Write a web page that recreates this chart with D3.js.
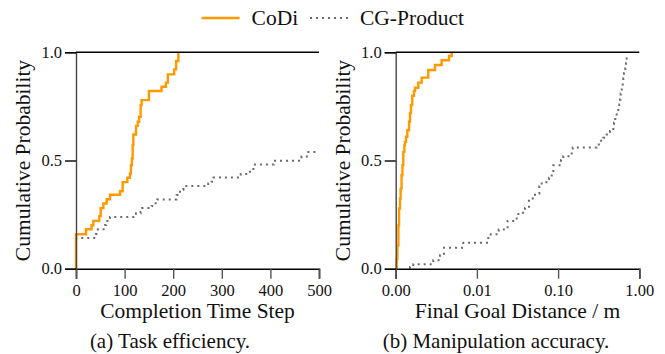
<!DOCTYPE html>
<html>
<head>
<meta charset="utf-8">
<script src="https://d3js.org/d3.v7.min.js"></script>
<style>
  body { margin: 0; background: #fff; }
  text { font-family: "Liberation Serif", "Times New Roman", serif; fill: #111; }
</style>
</head>
<body>
<svg id="chart" width="665" height="354"></svg>
<script>
// ---- data read off the reference (step-wise empirical CDFs) ----
// (a) completion time step
const codiTime     = [0, 20.6, 32, 35.7, 48, 50.8, 56.3, 63, 70, 90.6, 96, 105.6, 111, 113, 115, 116.6, 118, 123.5, 127, 130, 133, 135, 150, 176, 185, 189, 202, 206, 210.6];
const codiTimeCdf  = [0.159, 0.182, 0.201, 0.221, 0.243, 0.280, 0.301, 0.321, 0.342, 0.358, 0.400, 0.420, 0.440, 0.478, 0.509, 0.571, 0.620, 0.660, 0.679, 0.702, 0.756, 0.779, 0.821, 0.841, 0.860, 0.898, 0.921, 0.960, 1.0];
const cgTime       = [0, 41, 45, 60, 62, 70, 123.5, 133, 136, 155.7, 159, 167, 207, 214, 221, 272, 279, 283, 339, 358, 365, 407, 464, 475, 500];
const cgTimeCdf    = [0.142, 0.160, 0.182, 0.202, 0.220, 0.239, 0.256, 0.262, 0.280, 0.290, 0.302, 0.320, 0.340, 0.364, 0.382, 0.394, 0.402, 0.421, 0.438, 0.453, 0.481, 0.499, 0.518, 0.539, 0.539];

// (b) final goal distance in m
const codiDist     = [0.001, 0.00103, 0.00105, 0.00108, 0.0011, 0.00113, 0.00115, 0.00118, 0.00121, 0.00124, 0.00128, 0.0013, 0.00134, 0.00139, 0.00146, 0.0015, 0.00154, 0.0016, 0.00168, 0.00173, 0.0019, 0.00209, 0.00252, 0.00305, 0.00368, 0.00453, 0.00489];
const codiDistCdf  = [0.0, 0.046, 0.108, 0.201, 0.278, 0.324, 0.370, 0.432, 0.478, 0.540, 0.571, 0.586, 0.610, 0.640, 0.679, 0.718, 0.756, 0.799, 0.821, 0.836, 0.860, 0.883, 0.918, 0.941, 0.963, 0.983, 1.0];
const cgDist       = [0.0015, 0.0015, 0.00165, 0.0029, 0.00351, 0.00393, 0.0068, 0.0138, 0.0148, 0.01856, 0.0239, 0.0309, 0.0324, 0.0391, 0.0438, 0.0487, 0.0519, 0.0587, 0.0628, 0.0772, 0.0834, 0.0873, 0.1086, 0.1159, 0.1471, 0.1513, 0.2988, 0.328, 0.360, 0.397, 0.436, 0.479, 0.488, 0.506, 0.527, 0.551, 0.567, 0.578, 0.590, 0.607, 0.625, 0.635, 0.648, 0.673, 0.686, 0.700];
const cgDistCdf    = [0.0, 0.008, 0.020, 0.039, 0.062, 0.097, 0.120, 0.142, 0.159, 0.181, 0.221, 0.239, 0.259, 0.281, 0.319, 0.330, 0.347, 0.381, 0.400, 0.420, 0.440, 0.478, 0.502, 0.520, 0.540, 0.560, 0.574, 0.591, 0.605, 0.620, 0.636, 0.651, 0.674, 0.698, 0.721, 0.741, 0.759, 0.782, 0.810, 0.836, 0.860, 0.880, 0.903, 0.926, 0.949, 0.980];

const timeTicks = [0, 100, 200, 300, 400, 500];
const distTicks = [0.001, 0.01, 0.1, 1];
const probTicks = [0, 0.5, 1];

const seriesNames = ["CoDi", "CG-Product"];
const orange = "#ff9900";
const grey = "#6a6a6a";

const svg = d3.select("#chart");
const plotTop = 52.3, plotBottom = 268.7;

const y = d3.scaleLinear().domain([0, 1]).range([plotBottom, plotTop]);

function panel(xScale, xTicks, xFormat, xLabel, caption, captionX, series) {
  const [x0, x1] = xScale.range();
  const g = svg.append("g");

  // series
  const line = d3.line()
      .x(d => xScale(d[0]))
      .y(d => y(d[1]))
      .curve(d3.curveStepAfter);

  series.forEach(s => {
    let pts = s.xs.map((v, i) => [v, s.ps[i]]);
    if (s.ps[0] > 0) pts.unshift([s.xs[0], 0]);
    g.append("path")
      .attr("d", line(pts))
      .attr("fill", "none")
      .attr("stroke", s.color)
      .attr("stroke-width", s.dotted ? 2 : 2.4)
      .attr("stroke-dasharray", s.dotted ? "2 4" : null)
      .attr("stroke-linejoin", "miter");
  });

  // x axis
  const xa = g.append("g")
      .attr("transform", "translate(0," + plotBottom + ")")
      .call(d3.axisBottom(xScale).tickValues(xTicks).tickFormat(xFormat).tickSize(10).tickPadding(6));
  xa.select(".domain").attr("stroke", "#000").attr("stroke-width", 1.6);
  xa.selectAll(".tick line").attr("stroke", "#555").attr("stroke-width", 1.4);
  xa.selectAll(".tick text").attr("font-size", 16.5).attr("font-family", "Liberation Serif").attr("fill", "#111");

  // y axis
  const ya = g.append("g")
      .attr("transform", "translate(" + x0 + ",0)")
      .call(d3.axisLeft(y).tickValues(probTicks).tickFormat(d3.format(".1f")).tickSize(11).tickPadding(3));
  ya.select(".domain").attr("stroke", "#444").attr("stroke-width", 1.4);
  ya.selectAll(".tick line").attr("stroke", "#000").attr("stroke-width", 1.4);
  ya.selectAll(".tick text").attr("font-size", 16.5).attr("font-family", "Liberation Serif").attr("fill", "#111");

  // top border
  g.append("line")
    .attr("x1", x0).attr("x2", x1)
    .attr("y1", plotTop).attr("y2", plotTop)
    .attr("stroke", "#000").attr("stroke-width", 1.6);

  g.append("text")
    .attr("transform", "translate(" + (x0 - 53) + "," + ((plotTop + plotBottom) / 2) + ") rotate(-90)")
    .attr("text-anchor", "middle")
    .attr("dominant-baseline", "central")
    .attr("font-size", 21.5)
    .text("Cumulative Probability");

  g.append("text")
    .attr("x", (x0 + x1) / 2).attr("y", 318)
    .attr("text-anchor", "middle")
    .attr("font-size", 21.5)
    .text(xLabel);

  g.append("text")
    .attr("x", captionX).attr("y", 347.5)
    .attr("text-anchor", "middle")
    .attr("font-size", 21)
    .text(caption);
}

const xTime = d3.scaleLinear().domain([0, 500]).range([76, 319]);
panel(xTime, timeTicks, d3.format("d"), "Completion Time Step", "(a) Task efficiency.", 170, [
  { xs: cgTime, ps: cgTimeCdf, color: grey, dotted: true },
  { xs: codiTime, ps: codiTimeCdf, color: orange, dotted: false }
]);

const xDist = d3.scaleLog().domain([0.001, 1]).range([395.7, 639.3]);
panel(xDist, distTicks, d3.format(".2f"), "Final Goal Distance / m", "(b) Manipulation accuracy.", 496, [
  { xs: cgDist, ps: cgDistCdf, color: grey, dotted: true },
  { xs: codiDist, ps: codiDistCdf, color: orange, dotted: false }
]);

// legend
const legend = svg.append("g");
const legendItems = [
  { name: seriesNames[0], color: orange, dotted: false, x: 201.6 },
  { name: seriesNames[1], color: grey, dotted: true, x: 310 }
];
legendItems.forEach(d => {
  legend.append("line")
    .attr("x1", d.x).attr("x2", d.x + 38)
    .attr("y1", 18).attr("y2", 18)
    .attr("stroke", d.color)
    .attr("stroke-width", d.dotted ? 2 : 2.4)
    .attr("stroke-dasharray", d.dotted ? "2 4" : null);
  legend.append("text")
    .attr("x", d.x + 50).attr("y", 25)
    .attr("font-size", 21.5)
    .text(d.name);
});
</script>
</body>
</html>
